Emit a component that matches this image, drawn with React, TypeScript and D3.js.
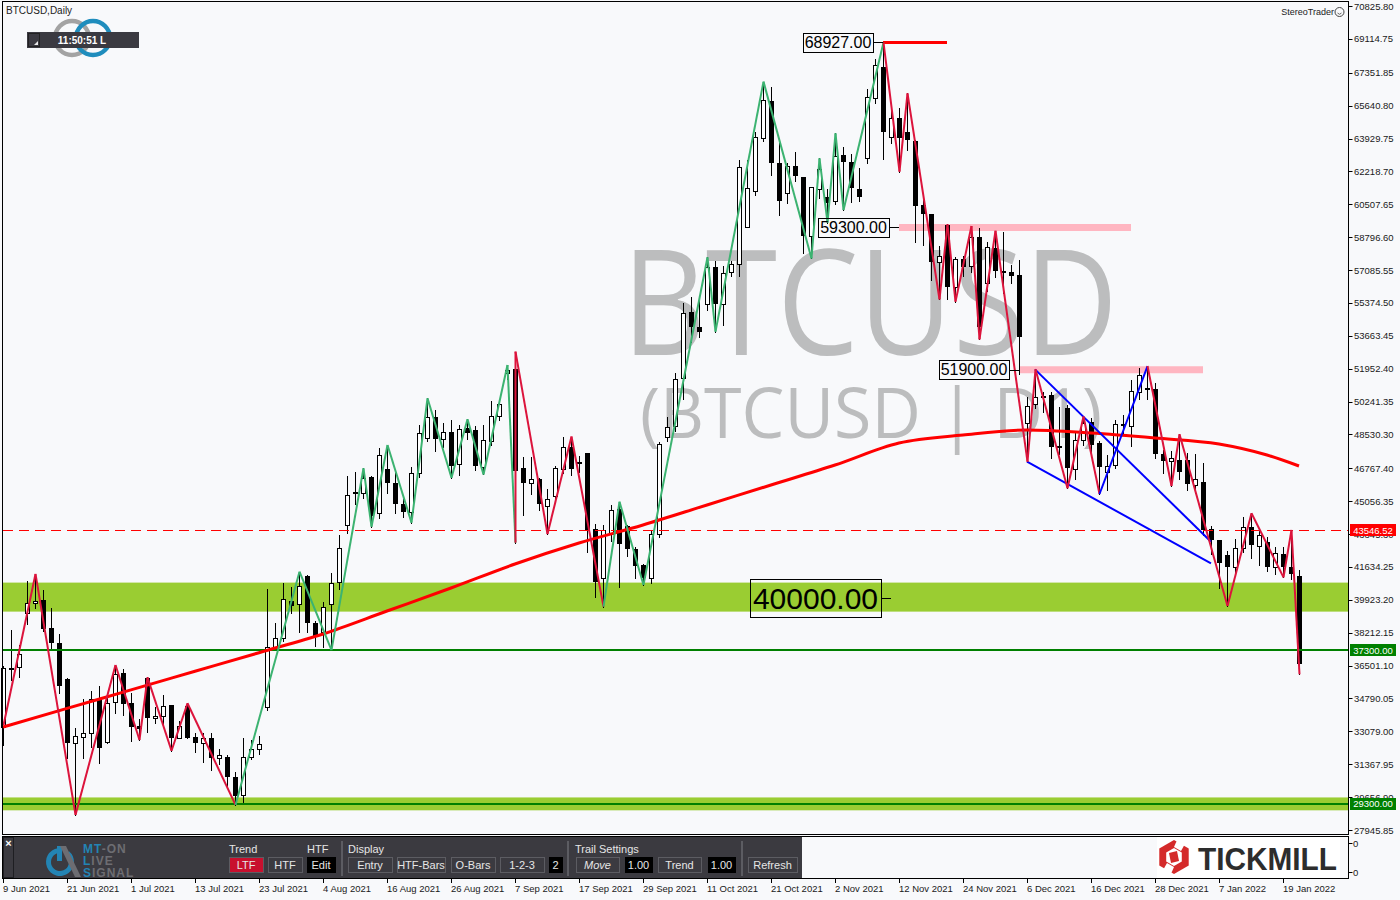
import React from "react";
import * as d3 from "d3";

// ---- daily bars (weekday sessions, 9 Jun 2021 .. 21 Jan 2022) ----
const open = [
  33300, 36300, 36410, 39220, 39740, 39920, 38440, 37660, 35800, 32490,
  32800, 32980, 34750, 32540, 34590, 36100, 34540, 33380, 35840, 33760,
  33880, 34450, 32720, 34400, 32800, 32460, 32720, 31680, 31730, 30720,
  29770, 31730, 32140, 34360, 37490, 37920, 39880, 39690, 41160, 38740,
  38270, 39690, 40870, 43820, 45520, 45500, 46300, 44430, 46720, 45990,
  44890, 44480, 46510, 48330, 49420, 48280, 48640, 46970, 48850, 48760,
  46850, 48190, 49490, 51750, 51920, 46770, 46020, 46190, 44810, 45340,
  46730, 47860, 47080, 47550, 43590, 41040, 43350, 44630, 43770, 42550,
  41740, 41040, 43350, 48380, 48970, 51450, 54920, 54100, 55320, 57260,
  55320, 56970, 57380, 59340, 61200, 63970, 65880, 62640, 61110, 62500,
  61940, 58870, 61290, 60900, 60700, 63070, 62690, 61290, 62900, 66060,
  67630, 64030, 64980, 64250, 63800, 60470, 60000, 57520, 59430, 56220,
  57660, 57300, 58790, 56390, 58220, 57040, 57000, 56830, 49110, 50110,
  50460, 50580, 47930, 49890, 46720, 48240, 49200, 48070, 46590, 46940,
  49060, 48990, 50760, 50930, 50880, 47500, 47170, 47200, 47200, 45880,
  46040, 43590, 43040, 42260, 41650, 42600, 43700, 42730, 42920, 41620,
  42310, 41620, 41160,
];
const high = [
  36500, 38350, 37570, 40920, 41270, 40440, 39480, 38150, 35840, 33240,
  34750, 35180, 35440, 34920, 36530, 36310, 35090, 33720, 35890, 34360,
  34970, 34450, 33620, 34540, 33010, 33010, 33010, 32140, 31850, 30980,
  32720, 32630, 32840, 40470, 38700, 40820, 40570, 41390, 41220, 38800,
  39830, 41340, 43300, 46370, 46590, 46770, 46370, 47810, 47980, 46540,
  45150, 46850, 49020, 50410, 49800, 49140, 49280, 49020, 49320, 48970,
  49020, 50290, 50360, 52140, 52840, 47340, 47340, 46250, 45670, 46890,
  48380, 48420, 47400, 47550, 43870, 43820, 44860, 45030, 43820, 42690,
  41790, 43520, 48150, 49420, 51710, 55350, 55670, 55560, 57750, 57570,
  57300, 57570, 62810, 62810, 64290, 66890, 66590, 63680, 62640, 63250,
  61950, 61400, 62900, 61290, 64200, 63510, 63120, 62380, 66490, 68050,
  68927, 65500, 65500, 66280, 63850, 60730, 60000, 58340, 59460, 57780,
  57830, 59380, 59260, 58560, 59130, 59080, 57350, 57610, 50500, 51918,
  50760, 50760, 49980, 50060, 48590, 49460, 49370, 48200, 47460, 49280,
  49540, 51360, 51970, 52090, 51190, 47700, 47690, 48540, 47550, 47510,
  47030, 43770, 43040, 42480, 43070, 44250, 44430, 43560, 43210, 42660,
  42660, 43560, 41480,
];
const low = [
  32370, 35750, 35930, 38650, 39480, 38300, 37310, 35060, 31680, 28730,
  31680, 32280, 31420, 32460, 34050, 33930, 32580, 32630, 33060, 33510,
  33360, 32070, 32720, 32730, 32020, 31500, 31070, 31360, 30200, 29250,
  29370, 31640, 31900, 34200, 37300, 37800, 39220, 38270, 38270, 37520,
  37490, 37310, 40500, 43400, 44900, 45200, 43730, 44200, 45500, 44460,
  44220, 43940, 46300, 48200, 47690, 47900, 46280, 46400, 48300, 46700,
  46450, 48000, 49300, 51400, 42900, 44340, 45430, 44600, 43350, 45000,
  46500, 46400, 46600, 42400, 40090, 39570, 43000, 40610, 42200, 41040,
  40700, 40820, 43210, 48200, 48700, 50360, 53360, 53580, 55000, 53880,
  54230, 56780, 56780, 59310, 61000, 63800, 62030, 59950, 60560, 61700,
  57990, 57690, 60820, 59550, 60500, 60210, 60640, 60700, 62670, 65800,
  62850, 63700, 62210, 63330, 58560, 58390, 56570, 55560, 55560, 55440,
  56800, 57000, 53480, 56000, 56700, 55870, 56400, 51680, 47110, 49900,
  49700, 47300, 47500, 45730, 46190, 48000, 47500, 45430, 45640, 46800,
  48500, 47930, 50360, 50400, 47300, 46510, 45850, 46200, 45640, 45500,
  43300, 42310, 40520, 39600, 41300, 42400, 42100, 41740, 41400, 41270,
  41090, 41000, 36050,
];
const close = [
  36360, 36400, 37090, 39740, 39880, 38400, 37660, 35440, 32490, 32840,
  32980, 34750, 32200, 34570, 36060, 34490, 33320, 33180, 33760, 33880,
  34420, 32720, 33360, 32750, 32460, 32720, 31680, 31830, 30690, 29720,
  31730, 32140, 32420, 37490, 37920, 39950, 39620, 40640, 38740, 38040,
  39570, 40820, 42600, 45380, 45450, 46250, 44290, 47460, 45990, 44890,
  44480, 46510, 48590, 49420, 48280, 48640, 46910, 48800, 48590, 46910,
  48240, 49490, 50110, 51880, 46650, 46020, 46190, 44910, 45150, 46770,
  47860, 46710, 46970, 43520, 40870, 43560, 44600, 42830, 42550, 41680,
  41040, 43330, 48020, 48940, 51400, 54830, 54100, 53880, 57260, 55320,
  56910, 57400, 62430, 61340, 64030, 65930, 62640, 60700, 62500, 62000,
  58870, 61390, 62340, 60560, 63040, 62690, 61340, 60870, 66110, 67760,
  64290, 64980, 63970, 63850, 60440, 60000, 57520, 57820, 56190, 57640,
  57230, 58790, 54100, 58270, 57050, 56980, 56790, 53580, 50010, 50460,
  50550, 47890, 47880, 46770, 48240, 49110, 47980, 46850, 46910, 49060,
  48990, 50790, 51620, 50880, 47500, 47170, 47290, 46590, 45950, 46190,
  43560, 43040, 41860, 41620, 42600, 43730, 42780, 43300, 41650, 42340,
  41650, 41250, 36570,
];

// one label every 8 sessions
const dateLabels = [
  "9 Jun 2021", "21 Jun 2021", "1 Jul 2021", "13 Jul 2021", "23 Jul 2021",
  "4 Aug 2021", "16 Aug 2021", "26 Aug 2021", "7 Sep 2021", "17 Sep 2021",
  "29 Sep 2021", "11 Oct 2021", "21 Oct 2021", "2 Nov 2021", "12 Nov 2021",
  "24 Nov 2021", "6 Dec 2021", "16 Dec 2021", "28 Dec 2021", "7 Jan 2022",
  "19 Jan 2022",
];

const priceTicks = [
  70825.8, 69114.75, 67351.85, 65640.8, 63929.75, 62218.7, 60507.65, 58796.6,
  57085.55, 55374.5, 53663.45, 51952.4, 50241.35, 48530.3, 46767.4, 45056.35,
  43345.3, 41634.25, 39923.2, 38212.15, 36501.1, 34790.05, 33079.0, 31367.95,
  29656.9, 27945.85,
];

// swing line pivots: bar index, price, colour of the leg ending there
const zzIndex = [0, 4, 9, 14, 17, 18, 21, 23, 29, 37, 41, 45, 46, 48, 51, 53, 56, 58, 60, 63, 64, 64, 68, 71, 75, 77, 80, 88, 89, 95, 101, 102, 103, 104, 105, 110, 112, 113, 117, 118, 119, 121, 122, 124, 128, 129, 133, 135, 137, 143, 146, 147, 153, 156, 160, 161, 162];
const zzPrice = [33400, 41270, 28730, 36530, 32630, 35890, 32070, 34540, 29250, 41390, 37310, 46770, 43730, 47980, 43940, 50410, 46280, 49320, 46450, 52140, 42900, 52840, 43350, 48420, 39570, 45030, 40700, 57750, 53880, 66890, 57690, 62900, 59550, 64200, 60210, 68927, 62210, 66280, 55560, 59460, 55440, 59380, 53480, 59130, 47110, 51918, 45730, 49460, 45430, 52090, 45850, 48540, 39600, 44430, 41090, 43560, 36050];
const zzLeg = ["", "d", "d", "d", "d", "d", "d", "d", "d", "u", "u", "u", "u", "u", "u", "u", "u", "u", "u", "u", "u", "d", "d", "d", "d", "u", "u", "u", "u", "u", "u", "u", "u", "u", "u", "u", "d", "d", "d", "d", "d", "d", "d", "d", "d", "d", "d", "d", "d", "c", "d", "d", "d", "d", "d", "d", "d"];

// long moving average, sampled along the session axis
const maIndex = [0, 8, 16, 24, 32, 40, 48, 56, 64, 72, 80, 88, 96, 104, 112, 120, 128, 136, 144, 152, 158, 162];
const maValue = [33306, 34274, 35236, 36204, 37172, 38146, 39342, 40539, 41788, 42881, 43818, 44859, 45899, 46940, 48085, 48501, 48761, 48605, 48345, 48033, 47460, 46888];

// wedge drawn over the December swing
const wedgeUpper = { from: 129, fromPrice: 51918, to: 151, toPrice: 42948 };
const wedgeLower = { from: 128, fromPrice: 47110, to: 151, toPrice: 41825 };

// support zones and horizontal levels
const zoneTop = [40820, 29640];
const zoneBottom = [39310, 28970];
const supportLevels = [37300, 29300];
const lastSwingLevel = 43546.52;

const FONT = "'Liberation Sans', Arial, sans-serif";
const BG = "#f8f9fb";
const UP_COL = "#3cb371";
const DOWN_COL = "#dc143c";
const CORR_COL = "#0000ff";

const x = d3.scaleLinear().domain([0, 162]).range([3, 1299]);
const y = d3.scaleLinear().domain([27945.85, 70825.8]).range([830, 6]);

const PLOT_L = 2.5;
const PLOT_R = 1348.5;

function LevelTag({ value, at, fontSize, boxH, boxW }: { value: number; at: number; fontSize: number; boxH: number; boxW: number }) {
  const yy = y(value);
  const right = x(at) - 10;
  return (
    <g>
      <line x1={right} x2={x(at)} y1={Math.round(yy) + 0.5} y2={Math.round(yy) + 0.5} stroke="#000" strokeWidth={1} />
      <rect x={Math.round(right - boxW) + 0.5} y={Math.round(yy - boxH / 2) + 0.5} width={boxW} height={boxH} fill="none" stroke="#000" strokeWidth={1} />
      <text x={right - boxW / 2} y={yy + fontSize * 0.36} textAnchor="middle" fontFamily={FONT} fontSize={fontSize} fill="#000">
        {value.toFixed(2)}
      </text>
    </g>
  );
}

function Button({ x0, x1, label, fill = "#3b3a40", italic = false }: { x0: number; x1: number; label: string; fill?: string; italic?: boolean }) {
  return (
    <g>
      <rect x={x0 + 0.5} y={857.5} width={x1 - x0} height={15} fill={fill} stroke={fill === "#000" ? "#000" : "#5c5c62"} />
      <text x={(x0 + x1) / 2} y={869} textAnchor="middle" fontFamily={FONT} fontSize={11} fill="#e6e6e6" fontStyle={italic ? "italic" : "normal"}>
        {label}
      </text>
    </g>
  );
}

export default function App() {
  const maLine = d3
    .line<number>()
    .x((_, k) => x(maIndex[k]))
    .y((v) => y(v))
    .curve(d3.curveMonotoneX)(maValue) as string;

  const legColour = (c: string) => (c === "u" ? UP_COL : c === "c" ? CORR_COL : DOWN_COL);

  const hexR = 17;
  const hexPts = d3.range(6).map((k) => {
    const a = (Math.PI / 3) * k - Math.PI / 2;
    return [1174 + hexR * Math.cos(a), 857 + hexR * Math.sin(a)];
  });

  return (
    <svg width={1400} height={900} style={{ position: "absolute", left: 0, top: 0, display: "block" }} fontFamily={FONT}>
      <rect width={1400} height={900} fill={BG} />

      {/* support zones */}
      {zoneTop.map((t, k) => (
        <rect key={k} x={3} y={y(t)} width={PLOT_R - 3} height={y(zoneBottom[k]) - y(t)} fill="#9acd32" />
      ))}

      {/* watermark */}
      <text x={622} y={355} fontFamily="'Open Sans', 'Noto Sans', sans-serif" fontSize={147} fill="#bcbdbe" textLength={496} lengthAdjust="spacingAndGlyphs">
        BTCUSD
      </text>
      <text x={640} y={438} fontFamily="'Open Sans', 'Noto Sans', sans-serif" fontSize={70} fill="#bcbdbe" textLength={462} lengthAdjust="spacingAndGlyphs">
        (BTCUSD | D1)
      </text>

      {/* marked levels */}
      <line x1={x(110)} x2={x(118)} y1={y(68927)} y2={y(68927)} stroke="#ff0000" strokeWidth={3} />
      <line x1={x(112)} x2={x(141)} y1={y(59300)} y2={y(59300)} stroke="#ffb6c1" strokeWidth={7} />
      <line x1={x(127)} x2={x(150)} y1={y(51900)} y2={y(51900)} stroke="#ffb6c1" strokeWidth={7} />

      {/* candles */}
      {open.map((o, i) => {
        const c = close[i];
        const cx = Math.round(x(i));
        const yh = Math.round(y(high[i]));
        const yl = Math.round(y(low[i]));
        const yo = Math.round(y(o));
        const yc = Math.round(y(c));
        const top = Math.min(yo, yc);
        const bot = Math.max(yo, yc);
        const bull = c >= o;
        return (
          <g key={i}>
            <line x1={cx + 0.5} x2={cx + 0.5} y1={yh} y2={yl + 1} stroke="#000" strokeWidth={1} />
            {bull ? (
              <rect x={cx - 1.5} y={top + 0.5} width={4} height={Math.max(bot - top, 1)} fill="#fff" stroke="#000" strokeWidth={1} />
            ) : (
              <rect x={cx - 2} y={top} width={5} height={Math.max(bot - top, 2)} fill="#000" />
            )}
          </g>
        );
      })}

      {/* horizontal levels */}
      <line x1={3} x2={PLOT_R} y1={Math.round(y(lastSwingLevel)) + 0.5} y2={Math.round(y(lastSwingLevel)) + 0.5} stroke="#ff0000" strokeWidth={1} strokeDasharray="10,6" />
      {supportLevels.map((v) => (
        <line key={v} x1={3} x2={PLOT_R} y1={Math.round(y(v))} y2={Math.round(y(v))} stroke="#008000" strokeWidth={2} />
      ))}

      {/* moving average */}
      <path d={maLine} fill="none" stroke="#ff0000" strokeWidth={3} />

      {/* wedge */}
      {[wedgeUpper, wedgeLower].map((w, k) => (
        <line key={k} x1={x(w.from)} y1={y(w.fromPrice)} x2={x(w.to)} y2={y(w.toPrice)} stroke={CORR_COL} strokeWidth={2} />
      ))}

      {/* swing line */}
      {zzIndex.slice(1).map((idx, k) => (
        <line
          key={k}
          x1={x(zzIndex[k]) + 0.5}
          y1={y(zzPrice[k])}
          x2={x(idx) + 0.5}
          y2={y(zzPrice[k + 1])}
          stroke={legColour(zzLeg[k + 1])}
          strokeWidth={2}
        />
      ))}

      {/* level tags */}
      <LevelTag value={68927} at={110} fontSize={16} boxH={19} boxW={70} />
      <LevelTag value={59300} at={112} fontSize={16} boxH={19} boxW={71} />
      <LevelTag value={51900} at={127} fontSize={16} boxH={19} boxW={70} />
      <LevelTag value={40000} at={111} fontSize={30} boxH={38} boxW={131} />

      {/* frames */}
      <rect x={PLOT_L} y={1.5} width={PLOT_R - PLOT_L} height={833} fill="none" stroke="#000" strokeWidth={1} />
      <rect x={PLOT_L} y={836.5} width={PLOT_R - PLOT_L} height={42} fill="none" stroke="#000" strokeWidth={1} />

      {/* price axis */}
      {priceTicks.map((p) => (
        <g key={p}>
          <line x1={PLOT_R} x2={PLOT_R + 4} y1={Math.round(y(p)) + 0.5} y2={Math.round(y(p)) + 0.5} stroke="#000" />
          <text x={1354} y={y(p) + 3.5} fontSize={9.5} fill="#1a1a1a">
            {p.toFixed(2)}
          </text>
        </g>
      ))}
      {[
        { v: lastSwingLevel, col: "#ff0000" },
        { v: supportLevels[0], col: "#008000" },
        { v: supportLevels[1], col: "#008000" },
      ].map(({ v, col }) => (
        <g key={v}>
          <rect x={1350} y={Math.round(y(v)) - 6} width={46} height={12} fill={col} />
          <text x={1373} y={y(v) + 3.5} textAnchor="middle" fontSize={9.5} fill="#fff">
            {v.toFixed(2)}
          </text>
        </g>
      ))}
      <line x1={PLOT_R + 4} x2={PLOT_R} y1={843.5} y2={843.5} stroke="#000" />
      <text x={1353} y={847} fontSize={9.5} fill="#1a1a1a">0</text>
      <line x1={PLOT_R + 4} x2={PLOT_R} y1={872.5} y2={872.5} stroke="#000" />
      <text x={1353} y={876} fontSize={9.5} fill="#1a1a1a">0</text>

      {/* time axis */}
      {dateLabels.map((lab, k) => {
        const tx = Math.round(x(k * 8)) + 0.5;
        return (
          <g key={lab}>
            <line x1={tx} x2={tx} y1={878} y2={883} stroke="#000" />
            <text x={tx - 0.5} y={892} fontSize={9.5} fill="#1a1a1a">
              {lab}
            </text>
          </g>
        );
      })}

      {/* header */}
      <text x={6} y={14} fontSize={10} fill="#222">BTCUSD,Daily</text>
      <circle cx={72} cy={38} r={17} fill="none" stroke="#a3a3a3" strokeWidth={4.5} />
      <circle cx={93} cy={38} r={17} fill="none" stroke="#1f8dbd" strokeWidth={4.5} />
      <rect x={27} y={32} width={112} height={16} fill="#3b3a41" />
      <rect x={28.5} y={33.5} width={11} height={13} fill="#3b3a41" stroke="#222" />
      <path d="M34,45 L38,45 L38,41 Z" fill="#e8e8e8" />
      <text x={82} y={44} textAnchor="middle" fontSize={10} fontWeight="bold" fill="#fff">11:50:51 L</text>
      <text x={1334} y={15} textAnchor="end" fontSize={9} fill="#222">StereoTrader</text>
      <circle cx={1339.5} cy={12} r={4.5} fill="none" stroke="#444" strokeWidth={1} />
      <path d="M1337.5,13 Q1339.5,15.5 1341.5,13" fill="none" stroke="#444" strokeWidth={0.8} />

      {/* toolbar */}
      <rect x={3} y={837} width={799} height={41} fill="#3b3a40" />
      <rect x={3.5} y={837.5} width={10} height={40} fill="none" stroke="#1e1e22" />
      <text x={8.5} y={847} textAnchor="middle" fontSize={11} fontWeight="bold" fill="#fff">×</text>
      <path d={d3.arc()({ innerRadius: 9, outerRadius: 14, startAngle: 0.7, endAngle: Math.PI * 2 - 0.15 }) as string} transform="translate(60,862)" fill="#2384b4" />
      <rect x={57} y={846} width={5} height={15} fill="#2384b4" />
      <path d="M60,846 L66,846 L81,877 L75,877 Z" fill="#6d6d72" />
      <text x={83} y={853} fontSize={12} fontWeight="bold" letterSpacing={1}>
        <tspan fill="#2384b4">MT</tspan>
        <tspan fill="#6d6d72">-ON</tspan>
      </text>
      <text x={83} y={865} fontSize={12} fontWeight="bold" letterSpacing={1}>
        <tspan fill="#2384b4">L</tspan>
        <tspan fill="#6d6d72">IVE</tspan>
      </text>
      <text x={83} y={877} fontSize={12} fontWeight="bold" letterSpacing={1}>
        <tspan fill="#2384b4">S</tspan>
        <tspan fill="#6d6d72">IGNAL</tspan>
      </text>

      <text x={229} y={853} fontSize={11} fill="#e6e6e6">Trend</text>
      <text x={307} y={853} fontSize={11} fill="#e6e6e6">HTF</text>
      <Button x0={229} x1={263} label="LTF" fill="#c8102e" />
      <Button x0={268} x1={302} label="HTF" />
      <Button x0={307} x1={335} label="Edit" fill="#000" />
      <rect x={341} y={841} width={2} height={35} fill="#5c5c62" />
      <text x={348} y={853} fontSize={11} fill="#e6e6e6">Display</text>
      <Button x0={348} x1={392} label="Entry" />
      <Button x0={397} x1={445} label="HTF-Bars" />
      <Button x0={451} x1={495} label="O-Bars" />
      <Button x0={500} x1={544} label="1-2-3" />
      <Button x0={549} x1={562} label="2" fill="#000" />
      <rect x={567} y={841} width={2} height={35} fill="#5c5c62" />
      <text x={575} y={853} fontSize={11} fill="#e6e6e6">Trail Settings</text>
      <Button x0={576} x1={619} label="Move" italic />
      <Button x0={625} x1={652} label="1.00" fill="#000" />
      <Button x0={658} x1={701} label="Trend" />
      <Button x0={708} x1={735} label="1.00" fill="#000" />
      <rect x={741} y={841} width={2} height={35} fill="#5c5c62" />
      <Button x0={748} x1={797} label="Refresh" />

      {/* broker logo */}
      <rect x={1157} y={837} width={183} height={41} fill="#fff" />
      <polygon points={hexPts.map((p) => p.join(",")).join(" ")} fill="#d42a2a" />
      <polygon
        points={d3
          .range(6)
          .map((k) => {
            const a = (Math.PI / 3) * k - Math.PI / 2;
            return [1174 + 9 * Math.cos(a), 857 + 9 * Math.sin(a)].join(",");
          })
          .join(" ")}
        fill="#fff"
      />
      <path d="M1178,838 L1186,842 L1181,851 L1174,847 Z" fill="#fff" />
      <path d="M1170,876 L1162,872 L1167,863 L1174,867 Z" fill="#fff" />
      <path d="M1169,853 L1177,851 L1179,861 L1171,863 Z" fill="#d42a2a" />
      <text x={1198} y={870} fontSize={31} fontWeight="bold" fill="#2d2d2d" textLength={139} lengthAdjust="spacingAndGlyphs">
        TICKMILL
      </text>
    </svg>
  );
}
